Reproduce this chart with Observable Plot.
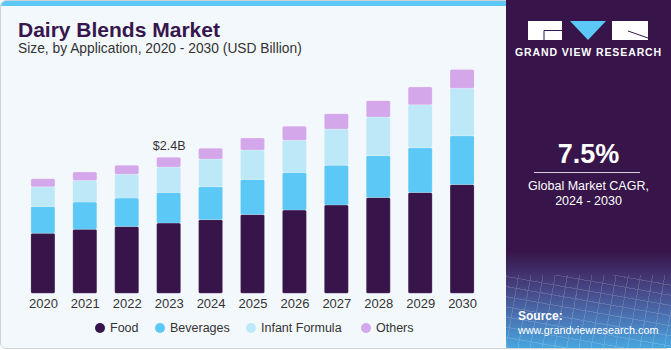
<!DOCTYPE html>
<html>
<head>
<meta charset="utf-8">
<script src="https://cdn.jsdelivr.net/npm/d3@7"></script>
<script src="https://cdn.jsdelivr.net/npm/@observablehq/plot@0.6"></script>
<style>
  html, body { margin: 0; padding: 0; background: #ffffff; }
  body { width: 671px; height: 350px; overflow: hidden; font-family: "Liberation Sans", Arial, sans-serif; }
  #card { position: absolute; left: 0; top: 0; width: 669px; height: 347px; border: 1px solid #cfd3d8; border-radius: 6px; background: #f3f8fc; overflow: hidden; }
  #strip { position: absolute; left: 0; top: 0; width: 506px; height: 5px; background: #5bc8f5; }
  #title { position: absolute; left: 17px; top: 17px; font-size: 21px; font-weight: bold; color: #37164d; letter-spacing: 0px; }
  #subtitle { position: absolute; left: 17px; top: 40px; font-size: 13.8px; color: #333; }
  #chart { position: absolute; left: -1px; top: 59px; }
  #legend { position: absolute; top: 319px; left: 0; width: 506px; height: 16px; font-size: 12.5px; color: #333; }
  .li { position: absolute; top: 0; white-space: nowrap; line-height: 16px; }
  .dot { display: inline-block; width: 10px; height: 10px; border-radius: 50%; vertical-align: -1px; margin-right: 5px; }
  #panel { position: absolute; left: 506px; top: 0; width: 165px; height: 348px;
    background: linear-gradient(to bottom, #371449 0%, #371449 72%, #46407e 82%, #4a78b8 92%, #47a6df 100%); }
  #grid { position: absolute; left: 0; top: 275px; width: 165px; height: 73px; opacity: 0.15;
    background-image: repeating-linear-gradient(100deg, #fff 0 1px, transparent 1px 12px), repeating-linear-gradient(10deg, #fff 0 1px, transparent 1px 10px); }
  #gvr { position: absolute; left: 22px; top: 21px; }
  #gvrtext { position: absolute; left: 0; top: 46px; width: 165px; text-align: center; color: #fff; font-weight: bold; font-size: 10.5px; letter-spacing: 0.9px; }
  #cagr { position: absolute; left: 0; top: 139px; width: 165px; text-align: center; color: #fff; font-weight: bold; font-size: 27px; }
  #rule { position: absolute; left: 28px; top: 172px; width: 106px; height: 1px; background: #d9d0e4; }
  #cagrlbl { position: absolute; left: 0; top: 179px; width: 165px; text-align: center; color: #fff; font-size: 12.5px; line-height: 15px; }
  #source { position: absolute; left: 12px; top: 309px; color: #fff; font-size: 10.8px; line-height: 14px; }
  #source b { font-size: 12px; }
</style>
</head>
<body>
<div id="card">
  <div id="strip"></div>
  <div id="title">Dairy Blends Market</div>
  <div id="subtitle">Size, by Application, 2020 - 2030 (USD Billion)</div>
  <div id="chart"></div>
  <div id="legend"></div>
</div>
<div id="panel">
  <div id="grid"></div>
  <svg id="gvr" width="122" height="20" viewBox="0 0 122 20">
    <rect x="0" y="0" width="34" height="19" fill="#fff"/>
    <path d="M16 9.5 H34 M16 9.5 V19" stroke="#371449" stroke-width="1" fill="none"/>
    <polygon points="42,0 78,0 60,19" fill="#5bc8f5"/>
    <rect x="84" y="0" width="36" height="19" fill="#fff"/>
    <path d="M100 10 L120 17" stroke="#371449" stroke-width="1" fill="none"/>
  </svg>
  <div id="gvrtext">GRAND VIEW RESEARCH</div>
  <div id="cagr">7.5%</div>
  <div id="rule"></div>
  <div id="cagrlbl">Global Market CAGR,<br>2024 - 2030</div>
  <div id="source"><b>Source:</b><br>www.grandviewresearch.com</div>
</div>
<script>
const years = [2020, 2021, 2022, 2023, 2024, 2025, 2026, 2027, 2028, 2029, 2030];
const seriesNames = ["Food", "Beverages", "Infant Formula", "Others"];
const seriesColors = ["#371449", "#5bc8f5", "#bde8f8", "#d4a6ea"];
const food =      [1.06, 1.13, 1.18, 1.24, 1.30, 1.39, 1.47, 1.56, 1.69, 1.78, 1.92];
const beverages = [0.47, 0.48, 0.50, 0.54, 0.58, 0.62, 0.66, 0.70, 0.74, 0.79, 0.86];
const infant =    [0.35, 0.38, 0.42, 0.45, 0.49, 0.52, 0.57, 0.64, 0.68, 0.76, 0.84];
const others =    [0.14, 0.15, 0.16, 0.17, 0.19, 0.21, 0.25, 0.27, 0.29, 0.31, 0.33];
const labelYear = 2023;
const labelText = "$2.4B";

const seriesValues = [food, beverages, infant, others];
const rows = [];
years.forEach((yr, i) => {
  seriesNames.forEach((s, j) => rows.push({year: String(yr), series: s, value: seriesValues[j][i]}));
});
const totals = years.map((yr, i) => ({year: String(yr), total: seriesValues.reduce((a, arr) => a + arr[i], 0)}));
const labelRow = totals.filter(d => d.year === String(labelYear)).map(d => ({...d, text: labelText}));

const plot = Plot.plot({
  width: 505,
  height: 260,
  marginLeft: 13,
  marginRight: 13,
  marginTop: 52,
  marginBottom: 26.7,
  style: {background: "transparent", fontFamily: "Liberation Sans, Arial, sans-serif", fontSize: "13px", color: "#333"},
  x: {domain: years.map(String), padding: 0.427, round: false, label: null, tickSize: 0, tickPadding: 5},
  y: {domain: [0, 3.2], axis: null},
  color: {domain: seriesNames, range: seriesColors},
  marks: [
    Plot.barY(rows, Plot.stackY({
      x: "year", y: "value", fill: "series", order: seriesNames,
      stroke: "#ffffff", strokeOpacity: 0.25, strokeWidth: 0.75, rx: 1.5
    })),
    Plot.text(labelRow, {x: "year", y: "total", text: "text", dy: -8, lineAnchor: "bottom", fontSize: 12.5, fill: "#333"})
  ]
});
document.getElementById("chart").appendChild(plot);

const legend = document.getElementById("legend");
const legendX = [94, 154, 245, 360];
seriesNames.forEach((s, j) => {
  const el = document.createElement("div");
  el.className = "li";
  el.style.left = legendX[j] + "px";
  el.innerHTML = `<span class="dot" style="background:${seriesColors[j]}"></span>${s}`;
  legend.appendChild(el);
});
</script>
</body>
</html>
